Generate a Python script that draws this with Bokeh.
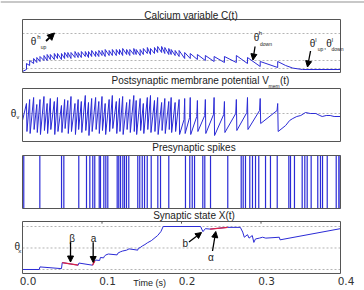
from bokeh.plotting import figure
from bokeh.layouts import column
from bokeh.models import Range1d, Span, Label, Arrow, NormalHead
from bokeh.embed import file_html
from bokeh.resources import INLINE

# ---------------- data ----------------
tick_values = [0.0, 0.1, 0.2, 0.3, 0.4]
tick_labels = ["0.0", "0.1", "0.2", "0.3", "0.4"]
t_start, t_end = 0.0, 0.4

# postsynaptic spike times (s)
post_spike_times = [0.005, 0.009, 0.014, 0.018, 0.022, 0.027, 0.031, 0.035, 0.040, 0.044,
                    0.049, 0.053, 0.057, 0.061, 0.066, 0.070, 0.074, 0.079, 0.083, 0.087,
                    0.092, 0.096, 0.100, 0.104, 0.109, 0.113, 0.118, 0.122, 0.126, 0.131,
                    0.135, 0.140, 0.143, 0.148, 0.152, 0.157, 0.161, 0.166, 0.170, 0.175,
                    0.179, 0.184, 0.187, 0.192, 0.197, 0.204, 0.211, 0.220, 0.230, 0.241,
                    0.254, 0.269, 0.283, 0.299, 0.321]

# calcium level just before / just after each postsynaptic spike
calcium_before = [0.15, 0.35, 0.45, 0.50, 0.55, 0.60, 0.60, 0.65, 0.65, 0.70,
                  0.65, 0.70, 0.75, 0.70, 0.75, 0.75, 0.75, 0.80, 0.75, 0.80,
                  0.80, 0.80, 0.85, 0.80, 0.85, 0.85, 0.85, 0.90, 0.85, 0.90,
                  0.85, 0.90, 0.90, 0.85, 0.90, 0.95, 0.90, 0.95, 1.00, 1.00,
                  0.95, 0.90, 0.90, 0.85, 0.80, 0.70, 0.70, 0.65, 0.60, 0.55,
                  0.50, 0.50, 0.45, 0.30, 0.25]
calcium_after = [0.45, 0.60, 0.70, 0.75, 0.80, 0.85, 0.90, 0.90, 0.95, 0.95,
                 0.95, 1.00, 1.00, 1.00, 1.05, 1.00, 1.05, 1.05, 1.05, 1.10,
                 1.05, 1.10, 1.10, 1.15, 1.10, 1.15, 1.15, 1.15, 1.20, 1.15,
                 1.15, 1.20, 1.15, 1.15, 1.20, 1.25, 1.20, 1.25, 1.30, 1.30,
                 1.25, 1.20, 1.15, 1.10, 1.10, 1.00, 0.95, 0.90, 0.85, 0.80,
                 0.80, 0.85, 0.75, 0.55, 0.55]
calcium_start = 0.05
calcium_tail_t = [0.331, 0.340, 0.352, 0.400]
calcium_tail_c = [0.35, 0.22, 0.15, 0.15]
calcium_lim = (0.0, 2.65)

theta_h_up = 1.95
theta_h_down = 0.60
theta_l = 0.20

# membrane potential at spike peak and right after reset
vmem_peak = [19, 21, 22, 18.5, 21, 22.5, 19, 21.5, 20, 22,
             18, 21, 20.5, 22.5, 19, 21, 20, 23, 19.5, 21.5,
             22, 20, 22.5, 19, 21, 23, 20, 21.5, 22.5, 19.5,
             21, 23, 20.5, 21.5, 19, 22, 23, 20.5, 22, 19.5,
             21.5, 20, 22, 19.5, 21, 21.5, 22, 20.5, 21, 22,
             20, 21, 22, 21.5, 19]
vmem_reset = [5, 4, 6, 4.5, 3.5, 5.5, 4, 6, 3.5, 5,
              4.5, 6.5, 4, 5, 3.5, 6, 4.5, 5.5, 3, 5,
              6, 4, 5.5, 3.5, 5, 6.5, 4, 5, 3.5, 6,
              4.5, 5, 3.5, 5.5, 4, 6, 4.5, 5, 3.5, 5.5,
              4, 6, 4.5, 5, 3.5, 4, 3.5, 5, 4, 3,
              4.5, 5.5, 6, 9, 5]
# potential reached before the upstroke, for the slower spikes at the end
vmem_onset_late = [11, 12, 12.5, 13, 13.5, 13.5, 14, 14.5, 15.5, 15.5]
vmem_start = 10.5
vmem_tail_t = [0.331, 0.336, 0.340, 0.345, 0.350, 0.356, 0.362, 0.369, 0.374, 0.377,
               0.382, 0.387, 0.392, 0.400]
vmem_tail_v = [8, 10.5, 11.5, 12.5, 13, 14.5, 14, 14, 13, 12.5,
               13, 13, 12.5, 12.5]
vmem_lim = (0.0, 26.5)
theta_v = 14

# presynaptic spike times (s)
pre_spike_times = [0.0016, 0.0218, 0.0491, 0.0520, 0.0708, 0.0805, 0.0847, 0.0884, 0.0909,
                   0.0965, 0.0981, 0.1023, 0.1048, 0.1073, 0.1191, 0.1211, 0.1233, 0.1262,
                   0.1283, 0.1308, 0.1337, 0.1450, 0.1475, 0.1506, 0.1535, 0.1569, 0.1619,
                   0.1702, 0.1736, 0.1840, 0.2050, 0.2104, 0.2135, 0.2164, 0.2268, 0.2293,
                   0.2365, 0.2582, 0.2751, 0.2776, 0.2805, 0.2859, 0.2893, 0.2931, 0.2972,
                   0.3057, 0.3119, 0.3204, 0.3350, 0.3371, 0.3421, 0.3518, 0.3551, 0.3581,
                   0.3631, 0.3714, 0.3748, 0.3774, 0.3833, 0.3946, 0.3979, 0.3995]
spike_lim = (0.0, 1.0)

# synaptic state X(t)
x_state_t = [0.000, 0.021, 0.022, 0.049, 0.050, 0.070, 0.071, 0.088, 0.091, 0.092,
             0.097, 0.098, 0.102, 0.103, 0.105, 0.108, 0.119, 0.120, 0.123, 0.126,
             0.131, 0.134, 0.145, 0.1455, 0.148, 0.151, 0.154, 0.157, 0.162, 0.170,
             0.174, 0.177, 0.224, 0.227, 0.230, 0.236, 0.258, 0.274, 0.277, 0.279,
             0.283, 0.285, 0.289, 0.291, 0.293, 0.298, 0.302, 0.306, 0.323, 0.324,
             0.400]
x_state_v = [0.00, 0.00, 0.06, 0.02, 0.16, 0.10, 0.15, 0.10, 0.20, 0.22,
             0.21, 0.28, 0.27, 0.31, 0.34, 0.36, 0.34, 0.38, 0.41, 0.43,
             0.45, 0.48, 0.45, 0.49, 0.51, 0.55, 0.58, 0.62, 0.67, 0.79,
             0.88, 1.00, 1.00, 0.88, 0.95, 0.94, 0.98, 0.98, 0.87, 0.75,
             0.81, 0.73, 0.79, 0.63, 0.71, 0.73, 0.75, 0.73, 0.75, 0.69,
             0.95]
beta_t, beta_x = [0.050, 0.070], [0.16, 0.10]
a_t, a_x = [0.088, 0.091], [0.10, 0.20]
alpha_t, alpha_x = [0.236, 0.258], [0.94, 0.98]
x_lim = (-0.093, 1.116)
theta_x = 0.5

# ---------------- style ----------------
BLUE = "#2b2bd6"
RED = "#dd2244"
GRIDC = "#b4b4b4"
BOX = "#555555"
TXT = "#222222"
SANS = "Liberation Sans"
W = 364
PX_PER_S = 795.0          # horizontal scale of every panel
LEFT_PAD = 22             # pixels left of t = 0


def panel(height, y0, y1):
    x0 = -LEFT_PAD / PX_PER_S
    x1 = (W - LEFT_PAD) / PX_PER_S
    p = figure(width=W, height=height, x_range=Range1d(x0, x1), y_range=Range1d(y0, y1),
               x_axis_location=None, y_axis_location=None, toolbar_location=None,
               output_backend="svg", title=None,
               min_border_left=0, min_border_right=0,
               min_border_top=0, min_border_bottom=0)
    p.xgrid.visible = False
    p.ygrid.visible = False
    p.outline_line_color = None
    p.background_fill_color = "white"
    p.border_fill_color = "white"
    return p


def box(p, lim):
    p.quad(left=t_start, right=t_end, bottom=lim[0], top=lim[1],
           fill_color=None, line_color=BOX, line_width=1)


def label(p, x, y, text, size, align="center", font=SANS, color=TXT, x_offset=0):
    p.add_layout(Label(x=x, y=y, text=text, text_font=font, text_font_size=f"{size}px",
                       text_align=align, text_baseline="middle", text_color=color,
                       x_offset=x_offset))


def hline(p, y):
    p.segment(x0=t_start, y0=y, x1=t_end, y1=y, line_color=GRIDC,
              line_dash="2 2", line_width=1)


def arrow(p, xs, ys, xe, ye, width=1.3, head=6):
    p.add_layout(Arrow(end=NormalHead(size=head, fill_color="black", line_color="black"),
                       x_start=xs, y_start=ys, x_end=xe, y_end=ye,
                       line_color="black", line_width=width))


# ---------------- calcium ----------------
p1 = panel(75, -0.15, 3.60)
p1.add_layout(Span(location=3.53, dimension="width", line_color="#c8c8c8", line_width=2))
for th in (theta_h_up, theta_h_down, theta_l):
    hline(p1, th)
ct, cv = [t_start], [calcium_start]
for t, b, a in zip(post_spike_times, calcium_before, calcium_after):
    ct += [t, t]
    cv += [b, a]
ct += calcium_tail_t
cv += calcium_tail_c
p1.line(ct, cv, line_color=BLUE, line_width=1)
box(p1, calcium_lim)
label(p1, 0.212, 2.875, "Calcium variable C(t)", 10)
label(p1, 0.0138, 1.55, "θ", 10)
label(p1, 0.0208, 1.775, "h", 6)
label(p1, 0.0264, 1.275, "up", 5)
arrow(p1, 0.0296, 1.575, 0.0403, 1.975, width=1.8, head=7)
label(p1, 0.2943, 1.75, "θ", 10)
label(p1, 0.2994, 1.975, "h", 6)
label(p1, 0.3063, 1.45, "down", 5)
arrow(p1, 0.2925, 1.30, 0.2899, 0.625)
label(p1, 0.3648, 1.45, "θ", 10)
label(p1, 0.3692, 1.65, "l", 6)
label(p1, 0.3748, 1.175, "up", 5)
label(p1, 0.3805, 1.30, ",", 8)
label(p1, 0.3855, 1.45, "θ", 10)
label(p1, 0.3899, 1.65, "l", 6)
label(p1, 0.3962, 1.175, "down", 5)
arrow(p1, 0.3623, 1.075, 0.3585, 0.275)

# ---------------- membrane potential ----------------
p2 = panel(67, -0.5, 33.0)
hline(p2, theta_v)
n_dense = len(post_spike_times) - len(vmem_onset_late)
vt, vv = [t_start], [vmem_start]
for i, (t, pk, rs) in enumerate(zip(post_spike_times, vmem_peak, vmem_reset)):
    if i >= n_dense:
        vt.append(t - 0.0008)
        vv.append(vmem_onset_late[i - n_dense])
    vt += [t, t + 0.0006]
    vv += [pk, rs]
vt += vmem_tail_t
vv += vmem_tail_v
p2.line(vt, vv, line_color=BLUE, line_width=1)
box(p2, vmem_lim)
label(p2, 0.112, 30.5, "Postsynaptic membrane potential V", 10, align="left")
label(p2, 0.3094, 27.75, "mem", 5, align="left")
label(p2, 0.3239, 30.5, "(t)", 10, align="left")
label(p2, -0.0113, 14, "θ", 10)
label(p2, -0.0057, 12.25, "v", 5.5)

# ---------------- presynaptic spikes ----------------
p3 = panel(68, -0.0377, 1.2453)
p3.segment(x0=pre_spike_times, y0=spike_lim[0], x1=pre_spike_times, y1=spike_lim[1],
           line_color=BLUE, line_width=1.2)
box(p3, spike_lim)
label(p3, 0.2157, 1.142, "Presynaptic spikes", 10)

# ---------------- synaptic state ----------------
p4 = panel(80, -0.4884, 1.3721)
for h in (0.0, theta_x, 1.0):
    hline(p4, h)
p4.line(x_state_t, x_state_v, line_color=BLUE, line_width=1)
for st, sx in ((beta_t, beta_x), (a_t, a_x), (alpha_t, alpha_x)):
    p4.line(st, sx, line_color=RED, line_width=1.3)
box(p4, x_lim)
# small inward ticks on the top edge
inner = tick_values[1:-1]
p4.segment(x0=inner, y0=x_lim[1], x1=inner, y1=x_lim[1] - 0.05, line_color=BOX, line_width=1)
label(p4, 0.2157, 1.256, "Synaptic state X(t)", 10)
label(p4, -0.0065, 0.53, "θ", 10)
label(p4, -0.0035, 0.42, "x", 6)
label(p4, 0.0625, 0.728, "β", 10)
arrow(p4, 0.0604, 0.635, 0.0604, 0.174)
label(p4, 0.0893, 0.728, "a", 10)
arrow(p4, 0.0889, 0.635, 0.0889, 0.163)
label(p4, 0.2047, 0.598, "b", 10)
arrow(p4, 0.2094, 0.64, 0.2252, 0.86)
label(p4, 0.2369, 0.286, "α", 10)
arrow(p4, 0.2390, 0.43, 0.2431, 0.884)
for tv, tl in zip(tick_values, tick_labels):
    label(p4, tv, -0.279, tl, 10.5, font="DejaVu Sans", color="#333333", x_offset=5.5)
label(p4, 0.160, -0.314, "Time (s)", 9)

layout = column(p1, p2, p3, p4, spacing=0)
open("out.html", "w").write(file_html(layout, INLINE))
